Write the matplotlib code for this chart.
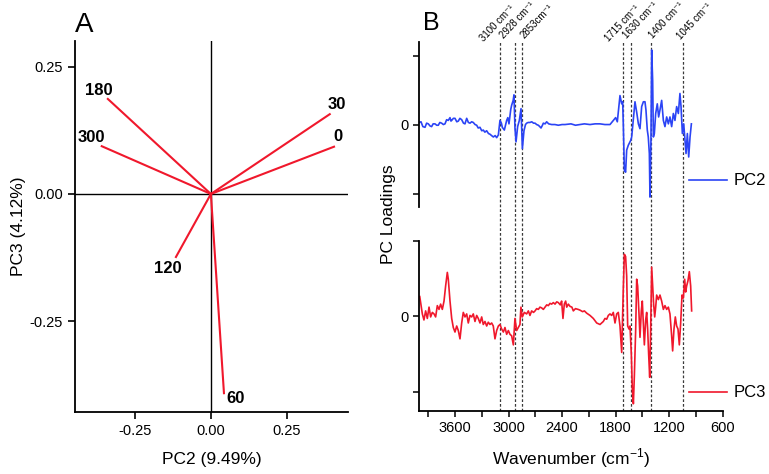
import matplotlib
matplotlib.use('Agg')
import matplotlib.pyplot as plt

plt.rcParams['font.family'] = ['Liberation Sans', 'DejaVu Sans']
plt.rcParams['mathtext.fontset'] = 'custom'
plt.rcParams['mathtext.rm'] = 'Liberation Sans'
plt.rcParams['axes.unicode_minus'] = False

RED = '#f0182c'
BLUE = '#2b44f5'

# ---- panel A: loading vectors (PC2, PC3) per angle
angles = ['0', '30', '60', '120', '180', '300']
pc2_vec = [0.405, 0.391, 0.043, -0.115, -0.339, -0.359]
pc3_vec = [0.093, 0.157, -0.392, -0.124, 0.187, 0.094]
label_off = [(4, 10), (7, 10), (12, -5), (-8, -12), (-9, 8), (-10, 9)]  # pixels

# ---- panel B: spectra loadings
pc2_wn = [4000, 3981, 3960, 3936, 3918, 3899, 3880, 3862, 3845, 3824, 3805, 3787, 3770, 3750,
          3730, 3712, 3694, 3675, 3656, 3645, 3637, 3618, 3600, 3580, 3563, 3545, 3525, 3505,
          3488, 3469, 3450, 3432, 3413, 3395, 3375, 3357, 3340, 3320, 3300, 3283, 3265, 3245,
          3225, 3208, 3190, 3170, 3150, 3133, 3114, 3096, 3080, 3070, 3047, 3021, 3008, 2995,
          2975, 2965, 2948, 2939, 2928, 2916, 2898, 2879, 2860, 2845, 2827, 2810, 2797, 2780,
          2760, 2740, 2720, 2703, 2685, 2666, 2650, 2636, 2620, 2610, 2590, 2573, 2550, 2517,
          2480, 2442, 2400, 2367, 2300, 2250, 2200, 2150, 2087, 2030, 1975, 1920, 1863, 1826,
          1800, 1781, 1751, 1732, 1721, 1714, 1702, 1688, 1676, 1658, 1631, 1620, 1602, 1583,
          1564, 1545, 1527, 1508, 1489, 1471, 1460, 1445, 1434, 1422, 1415, 1404, 1396, 1385,
          1377, 1366, 1351, 1333, 1318, 1303, 1284, 1265, 1247, 1228, 1209, 1191, 1172, 1153,
          1135, 1116, 1097, 1079, 1067, 1052, 1037, 1023, 1011, 996, 981, 966, 951]
pc2_val = [0.03, 0.04, -0.03, -0.04, 0.02, 0.01, -0.02, -0.03, 0.01, 0.01, -0.01, -0.01, 0.03, 0.02,
           0.00, 0.01, 0.07, 0.06, 0.10, 0.05, 0.06, 0.09, 0.09, 0.04, 0.05, 0.09, 0.07, 0.02,
           0.01, 0.09, 0.03, 0.02, 0.04, 0.03, 0.00, -0.01, -0.05, -0.04, -0.09, -0.08, -0.11, -0.09,
           -0.13, -0.14, -0.16, -0.18, -0.16, -0.19, -0.15, 0.06, 0.02, -0.04, -0.08, 0.06, 0.10, 0.01,
           0.22, 0.28, 0.35, 0.43, -0.05, -0.25, -0.03, 0.06, 0.23, -0.35, -0.09, 0.00, 0.02, 0.03,
           0.03, 0.04, 0.02, 0.02, 0.00, -0.01, -0.03, -0.05, -0.01, 0.02, 0.01, 0.04, 0.01, 0.00,
           0.00, -0.01, 0.00, 0.00, 0.01, -0.01, 0.00, 0.01, 0.00, 0.01, 0.01, 0.00, 0.00, 0.06,
           0.10, 0.04, 0.42, 0.30, 0.33, 0.01, -0.66, -0.69, -0.37, -0.30, -0.23, -0.18, 0.06, 0.33,
           0.18, 0.01, -0.06, 0.26, 0.33, 0.33, 0.21, -0.08, -0.18, -0.42, -1.05, -0.23, 1.08, 0.64,
           -0.18, -0.13, 0.16, 0.30, 0.11, 0.21, 0.35, 0.06, -0.03, 0.11, 0.01, 0.11, -0.03, 0.16,
           0.06, 0.26, 0.16, 0.45, 0.26, -0.13, 0.01, -0.23, -0.42, -0.13, -0.47, -0.18, 0.01]

pc3_wn = [3995, 3966, 3948, 3929, 3910, 3891, 3873, 3854, 3835, 3817, 3798, 3779, 3761, 3742,
          3723, 3705, 3686, 3675, 3656, 3637, 3619, 3600, 3581, 3563, 3544, 3525, 3507, 3488,
          3469, 3451, 3432, 3413, 3395, 3376, 3357, 3339, 3320, 3301, 3283, 3264, 3245, 3227,
          3208, 3189, 3171, 3152, 3133, 3114, 3096, 3077, 3058, 3040, 3021, 3002, 2984, 2965,
          2946, 2928, 2909, 2890, 2872, 2861, 2846, 2823, 2797, 2778, 2760, 2741, 2720, 2703,
          2685, 2666, 2648, 2629, 2610, 2591, 2572, 2554, 2535, 2517, 2498, 2479, 2460, 2442,
          2420, 2405, 2390, 2375, 2360, 2348, 2330, 2311, 2290, 2274, 2250, 2220, 2199, 2170,
          2150, 2124, 2100, 2087, 2050, 2012, 1975, 1938, 1919, 1900, 1882, 1863, 1844, 1826,
          1807, 1788, 1770, 1751, 1732, 1714, 1702, 1688, 1676, 1665, 1650, 1639, 1624, 1613,
          1601, 1590, 1575, 1564, 1553, 1538, 1527, 1512, 1501, 1489, 1478, 1463, 1452, 1441,
          1430, 1418, 1407, 1396, 1385, 1374, 1362, 1351, 1340, 1321, 1303, 1284, 1265, 1247,
          1228, 1209, 1191, 1172, 1161, 1146, 1131, 1116, 1101, 1086, 1071, 1056, 1041, 1026,
          1015, 1004, 989, 974, 959, 948]
pc3_val = [0.26, 0.03, -0.05, 0.07, -0.03, 0.12, -0.01, 0.05, 0.03, -0.01, 0.14, 0.09, 0.16, 0.09,
           0.20, 0.40, 0.58, 0.49, 0.20, -0.03, -0.15, -0.21, -0.13, -0.19, -0.30, -0.09, 0.05, -0.01,
           0.03, -0.09, 0.01, -0.01, 0.03, -0.07, 0.01, -0.03, -0.09, -0.01, -0.11, -0.07, -0.13, -0.08,
           -0.11, -0.09, -0.13, -0.30, -0.19, -0.13, -0.11, -0.17, -0.21, -0.15, -0.24, -0.19, -0.24, -0.26,
           -0.38, -0.03, -0.19, -0.15, -0.11, 0.12, -0.01, 0.05, 0.03, 0.07, 0.01, 0.07, 0.05, 0.07,
           0.10, 0.09, 0.12, 0.11, 0.09, 0.12, 0.15, 0.14, 0.17, 0.16, 0.18, 0.16, 0.19, 0.18,
           0.15, 0.20, -0.03, 0.16, 0.20, 0.12, 0.16, 0.13, 0.12, 0.07, 0.10, 0.09, 0.08, 0.06,
           0.07, 0.04, 0.02, 0.01, -0.03, -0.09, -0.11, -0.07, -0.03, -0.04, 0.01, 0.03, 0.01, 0.05,
           -0.09, 0.03, 0.05, -0.13, -0.48, 0.36, 0.82, 0.79, 0.53, -0.13, -0.17, -0.13, -0.50, -0.96,
           -1.16, -0.79, -0.17, 0.49, 0.40, 0.03, -0.28, 0.07, 0.20, -0.09, -0.38, -0.05, 0.05, -0.17,
           -0.50, -0.81, -0.17, 0.65, 0.40, 0.16, -0.01, 0.12, 0.28, 0.22, 0.28, 0.20, 0.09, 0.14,
           0.09, 0.12, 0.03, -0.26, -0.46, -0.17, -0.01, -0.13, -0.17, -0.38, -0.09, 0.28, 0.24, 0.49,
           0.32, 0.40, 0.47, 0.59, 0.40, 0.07]

bands = [3100, 2928, 2853, 1715, 1630, 1400, 1045]
band_labels = ['3100 cm⁻¹', '2928 cm⁻¹', '2853cm⁻¹', '1715 cm⁻¹',
               '1630 cm⁻¹', '1400 cm⁻¹', '1045 cm⁻¹']
band_off = [(-14, -2), (-9, 1), (4, 1), (-13, -2), (-2, 1), (3, 1), (-1, 0)]  # pixels

W, H = 769, 474


def rect(l, t, r, b):
    return [l / W, (H - b) / H, (r - l) / W, (b - t) / H]


fig = plt.figure(figsize=(W / 100, H / 100), dpi=100)

# ---------------- panel A
axA = fig.add_axes(rect(75, 41, 348, 412))
for lbl, x, y, off in zip(angles, pc2_vec, pc3_vec, label_off):
    axA.plot([0, x], [0, y], color=RED, lw=1.5, zorder=3)
    axA.annotate(lbl, (x, y), xytext=off, textcoords='offset pixels',
                 ha='center', va='center', fontsize=12, fontweight='bold')
axA.axhline(0, color='black', lw=1)
axA.axvline(0, color='black', lw=1)
axA.set_xlim(-0.447, 0.451)
axA.set_ylim(-0.429, 0.301)
for s in ['top', 'right']:
    axA.spines[s].set_visible(False)
for s in ['left', 'bottom']:
    axA.spines[s].set_linewidth(1.3)
axA.set_xticks([-0.25, 0, 0.25])
axA.set_yticks([-0.25, 0, 0.25])
axA.xaxis.set_major_formatter(matplotlib.ticker.FormatStrFormatter('%.2f'))
axA.yaxis.set_major_formatter(matplotlib.ticker.FormatStrFormatter('%.2f'))
axA.tick_params(direction='out', length=5, width=1.2, labelsize=10.5)
axA.set_xlabel('PC2 (9.49%)', fontsize=12.5, labelpad=10)
axA.set_ylabel('PC3 (4.12%)', fontsize=12.5, labelpad=3)
fig.text(75 / W, 1 - 32 / H, 'A', fontsize=20, ha='left', va='baseline')

# ---------------- panel B
XL = (4000, 600)
ov = fig.add_axes(rect(419.3, 41.7, 722.7, 411), zorder=0)
ov.set_xlim(*XL)
ov.set_ylim(0, 1)
ov.axis('off')
for wn, lbl, off in zip(bands, band_labels, band_off):
    ov.axvline(wn, color='#3a3a3a', lw=0.9, ls=(0, (2.2, 1.6)))
    ov.annotate(lbl, (wn, 1), xycoords=ov.get_xaxis_transform(), xytext=off,
                textcoords='offset pixels', rotation=47, rotation_mode='anchor',
                ha='left', va='bottom', fontsize=7, annotation_clip=False, clip_on=False)

axT = fig.add_axes(rect(419.3, 41.7, 722.7, 206.7), zorder=1)
axB = fig.add_axes(rect(419.3, 240.7, 722.7, 411), zorder=1)

axT.plot(pc2_wn, pc2_val, color=BLUE, lw=1.2, label='PC2')
axB.plot(pc3_wn, pc3_val, color=RED, lw=1.2, label='PC3')

axT.set_ylim(-1.19, 1.2)
axB.set_ylim(-1.256, 0.85)
for ax in (axT, axB):
    ax.set_facecolor('none')
    ax.set_xlim(*XL)
    ax.spines['top'].set_visible(False)
    ax.spines['right'].set_visible(False)
    ax.spines['left'].set_linewidth(1.3)
    ax.set_yticks([-1, 0, 1])
    ax.set_yticklabels(['', '0', ''])
    ax.tick_params(axis='y', direction='out', length=4, width=1.1, labelsize=10.5)
axT.spines['bottom'].set_visible(False)
axT.set_xticks([])
axB.spines['bottom'].set_linewidth(1.3)
axB.set_xticks([3600, 3000, 2400, 1800, 1200, 600])
axB.set_xticks([3900, 3300, 2700, 2100, 1500, 900], minor=True)
axB.tick_params(axis='x', which='both', direction='out', length=4, width=1.1, labelsize=10.5)
axB.set_xlabel('Wavenumber (cm$^{\\mathregular{-1}}$)', fontsize=12.5, labelpad=8)

axT.legend(loc='center left', bbox_to_anchor=(0.889, 0.156), frameon=False, fontsize=12,
           handlelength=2.3, handletextpad=0.4, borderaxespad=0, borderpad=0)
axB.legend(loc='center left', bbox_to_anchor=(0.889, 0.106), frameon=False, fontsize=12,
           handlelength=2.3, handletextpad=0.4, borderaxespad=0, borderpad=0)

fig.text(388 / W, 1 - 214 / H, 'PC Loadings', rotation=90, fontsize=12.5,
         ha='center', va='center')
fig.text(423 / W, 1 - 30 / H, 'B', fontsize=18, ha='left', va='baseline')

fig.savefig('out.png', dpi=100)
